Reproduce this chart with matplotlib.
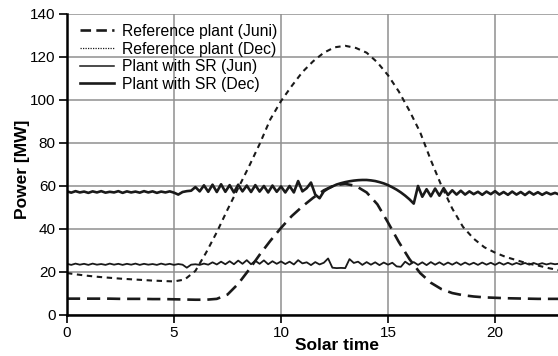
import numpy as np
import matplotlib
matplotlib.use('Agg')
import matplotlib.pyplot as plt
from matplotlib.lines import Line2D

plt.rcParams['font.family'] = ['Liberation Sans', 'DejaVu Sans']

# smooth reference curves, every half hour
hours_ref = [0.0, 0.5, 1.0, 1.5, 2.0, 2.5, 3.0, 3.5, 4.0, 4.5, 5.0, 5.5, 6.0, 6.5,
             7.0, 7.5, 8.0, 8.5, 9.0, 9.5, 10.0, 10.5, 11.0, 11.5, 12.0, 12.5, 13.0,
             13.5, 14.0, 14.5, 15.0, 15.5, 16.0, 16.5, 17.0, 17.5, 18.0, 18.5, 19.0,
             19.5, 20.0, 20.5, 21.0, 21.5, 22.0, 22.5, 23.0]
ref_jun = [7.6, 7.6, 7.6, 7.6, 7.6, 7.5, 7.5, 7.5, 7.4, 7.4, 7.3, 7.2, 7.1, 7.1,
           7.5, 9.5, 14.5, 21.0, 28.0, 34.5, 40.5, 46.0, 50.5, 54.5, 58.0, 60.3, 61.0,
           60.0, 57.0, 51.5, 43.0, 34.0, 26.0, 19.5, 15.0, 12.0, 10.2, 9.2, 8.6,
           8.2, 8.0, 7.8, 7.7, 7.6, 7.5, 7.5, 7.5]
ref_dec = [19.5, 18.8, 18.2, 17.7, 17.3, 16.9, 16.6, 16.3, 16.0, 15.8, 15.6, 16.5, 20.5, 29.0,
           38.5, 49.0, 59.0, 69.0, 79.5, 91.0, 99.5, 106.5, 113.0, 118.0, 122.0, 124.5, 125.2,
           124.2, 122.0, 117.5, 111.5, 104.0, 95.0, 85.0, 72.0, 60.0, 49.5, 41.0, 35.5,
           31.5, 29.0, 27.0, 25.5, 24.0, 23.0, 21.8, 20.8]

# plant with SR, every 0.2 h starting at 0
sr_jun = [23.8, 23.3, 23.9, 23.4, 23.8, 23.3, 23.9, 23.4, 23.7, 23.3, 23.9, 23.4, 23.8, 23.3,
          23.8, 23.4, 23.9, 23.3, 23.8, 23.4, 23.7, 23.3, 23.9, 23.4, 23.8, 23.3, 23.7, 23.4,
          22.0, 23.4, 23.6, 23.3, 23.9, 23.4, 24.5, 23.5, 24.8, 23.6, 25.0, 23.6, 25.3, 23.8,
          25.5, 23.6, 25.2, 23.8, 25.4, 23.6, 25.0, 23.8, 24.9, 23.7, 24.8, 23.5, 25.5, 24.0,
          24.5, 23.2, 24.6, 23.5, 24.3, 26.3, 22.0, 21.8, 21.9, 21.8, 26.0, 24.2, 24.8, 23.3,
          24.6, 23.4, 24.5, 23.2, 24.4, 23.4, 24.3, 22.6, 22.4, 24.8, 23.4, 24.6, 23.3, 24.5,
          23.2, 24.6, 23.4, 24.5, 23.3, 24.4, 23.4, 24.5, 23.3, 24.4, 23.4, 24.3, 23.3, 24.4,
          23.4, 24.3, 23.3, 24.4, 23.4, 24.3, 23.4, 24.2, 23.5, 24.2, 23.4, 24.2, 23.5, 24.1,
          23.5, 24.0, 23.6, 23.9]
sr_dec = [57.5, 56.9, 57.6, 57.0, 57.4, 56.8, 57.5, 57.0, 57.6, 56.9, 57.3, 57.0, 57.6, 56.8,
          57.5, 57.0, 57.4, 56.9, 57.6, 57.0, 57.5, 56.8, 57.4, 57.0, 57.5, 56.9, 56.0, 57.2,
          57.6, 57.8, 59.5, 57.5, 60.3, 57.3, 60.6, 57.2, 60.8, 57.3, 60.4, 57.0, 60.6, 57.5,
          60.2, 57.2, 60.4, 57.4, 60.0, 57.0, 60.2, 57.3, 59.8, 57.0, 60.0, 57.0, 62.3, 57.5,
          59.0, 61.6, 56.0, 54.3, 57.5, 58.8, 59.8, 60.7, 61.3, 61.8, 62.2, 62.5, 62.7, 62.8,
          62.8, 62.6, 62.3, 61.8, 61.2, 60.4, 59.4, 58.3, 57.0, 55.5, 53.8, 51.8, 60.0, 55.0,
          58.5, 55.2, 58.8, 55.5, 59.0, 55.8, 58.0, 56.0, 57.8, 56.0, 57.5, 56.2, 57.3, 55.9,
          57.4, 56.2, 57.6, 56.0, 57.2, 55.9, 57.4, 56.0, 57.2, 55.8, 57.3, 56.0, 57.1, 55.9,
          57.0, 56.1, 56.8, 56.0]
hours_sr = np.round(np.arange(len(sr_dec)) * 0.2, 1)

labels = ['Reference plant (Juni)', 'Reference plant (Dec)',
          'Plant with SR (Jun)', 'Plant with SR (Dec)']

fig = plt.figure(figsize=(5.58, 3.56), dpi=100)
ax = fig.add_axes([0.12, 0.1152, 0.88, 0.8455])

ax.plot(hours_ref, ref_jun, color='#1a1a1a', lw=1.9, dashes=(5, 2.6))
ax.plot(hours_ref, ref_dec, color='#1a1a1a', lw=1.5, dashes=(2.6, 2.2))
ax.plot(hours_sr[:len(sr_jun)], sr_jun, color='#1a1a1a', lw=1.3)
ax.plot(hours_sr, sr_dec, color='#1a1a1a', lw=1.9)

ax.set_xlim(0, 22.94)
ax.set_ylim(0, 140)
ax.set_xticks([0, 5, 10, 15, 20])
ax.set_yticks(range(0, 141, 20))
ax.grid(True, color='#909090', lw=1.1)
ax.set_axisbelow(True)

for side in ['top', 'right']:
    ax.spines[side].set_visible(False)
for side in ['left', 'bottom']:
    ax.spines[side].set_linewidth(1.8)
ax.tick_params(direction='out', length=6, width=1.2, labelsize=11, pad=2)

ax.set_xlabel('Solar time', fontsize=12.5, fontweight='bold')
ax.set_ylabel('Power [MW]', fontsize=12.5, fontweight='bold')
ax.xaxis.set_label_coords(0.549, -0.078)
ax.yaxis.set_label_coords(-0.075, 0.485)

handles = [Line2D([], [], color='#1a1a1a', lw=1.9, dashes=(4, 2)),
           Line2D([], [], color='#1a1a1a', lw=0.9, dashes=(1, 1)),
           Line2D([], [], color='#1a1a1a', lw=1.1),
           Line2D([], [], color='#1a1a1a', lw=1.9)]
ax.legend(handles, labels, loc='upper left', bbox_to_anchor=(0.026, 0.967),
          frameon=False, fontsize=11.3, handlelength=2.2, handletextpad=0.5,
          labelspacing=0.17, borderpad=0, borderaxespad=0)

fig.savefig('out.png', dpi=100)
